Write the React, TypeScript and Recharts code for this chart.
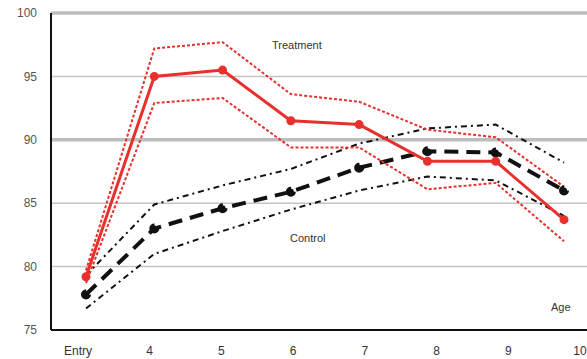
import React from "react";
import {
  LineChart,
  Line,
  XAxis,
  YAxis,
  CartesianGrid,
  ReferenceLine,
} from "recharts";

// age at measurement; "Entry" is the baseline visit
const ages = ["Entry", "4", "5", "6", "7", "8", "9", "10"];

const treatment = [79.2, 95.0, 95.5, 91.5, 91.2, 88.3, 88.3, 83.7];
const treatmentUpper = [79.7, 97.2, 97.7, 93.6, 93.0, 90.8, 90.2, 86.3];
const treatmentLower = [78.7, 92.9, 93.3, 89.4, 89.4, 86.1, 86.6, 82.0];

const control = [77.8, 83.0, 84.6, 85.9, 87.8, 89.1, 89.0, 86.0];
const controlUpper = [79.3, 84.9, 86.4, 87.7, 89.7, 90.9, 91.2, 88.2];
const controlLower = [76.7, 81.0, 82.8, 84.5, 86.0, 87.1, 86.8, 84.0];

const yTicks = [75, 80, 85, 90, 95, 100];
const majorLines = [90, 100];

const data = ages.map((age, i) => ({
  age,
  treatment: treatment[i],
  treatmentUpper: treatmentUpper[i],
  treatmentLower: treatmentLower[i],
  control: control[i],
  controlUpper: controlUpper[i],
  controlLower: controlLower[i],
}));

const font = "'Liberation Sans', Arial, sans-serif";
const red = "#e8302c";

const noteStyle: React.CSSProperties = {
  position: "absolute",
  fontFamily: font,
  fontSize: 11,
  color: "#333",
  lineHeight: "12px",
  whiteSpace: "nowrap",
};

export default function App() {
  return (
    <div
      style={{
        position: "absolute",
        left: 0,
        top: 0,
        width: 587,
        height: 359,
        overflow: "hidden",
        background: "#fff",
      }}
    >
      <LineChart
        width={599}
        height={359}
        data={data}
        margin={{ top: 13, right: 0, left: 0, bottom: 0 }}
      >
        <CartesianGrid vertical={false} stroke="#c4c4c4" strokeWidth={1.5} />
        {majorLines.map((v) => (
          <ReferenceLine key={v} y={v} stroke="#bdbdbd" strokeWidth={3.5} />
        ))}
        {/* points sit on this axis; the printed labels use a slightly wider spacing */}
        <XAxis dataKey="age" hide height={0} padding={{ left: 35, right: 35 }} />
        <XAxis
          xAxisId="lbl"
          dataKey="age"
          height={29}
          padding={{ left: 27, right: 19 }}
          axisLine={{ stroke: "#111", strokeWidth: 2 }}
          tickLine={false}
          tickMargin={10}
          interval={0}
          tick={{ fontSize: 12, fill: "#333", fontFamily: font }}
        />
        <YAxis
          width={51}
          domain={[75, 100]}
          ticks={yTicks}
          axisLine={{ stroke: "#111", strokeWidth: 2 }}
          tickLine={false}
          tickMargin={8}
          tick={{ fontSize: 12, fill: "#555", fontFamily: font }}
        />
        <Line
          dataKey="controlUpper"
          stroke="#111"
          strokeWidth={2}
          strokeDasharray="6 4 2 4"
          dot={false}
          isAnimationActive={false}
        />
        <Line
          dataKey="controlLower"
          stroke="#111"
          strokeWidth={2}
          strokeDasharray="6 4 2 4"
          dot={false}
          isAnimationActive={false}
        />
        <Line
          dataKey="control"
          stroke="#111"
          strokeWidth={4}
          strokeDasharray="14 8"
          dot={{ r: 3, fill: "#111", stroke: "#111" }}
          isAnimationActive={false}
        />
        <Line
          dataKey="treatmentUpper"
          stroke={red}
          strokeWidth={2}
          strokeDasharray="3 2"
          dot={false}
          isAnimationActive={false}
        />
        <Line
          dataKey="treatmentLower"
          stroke={red}
          strokeWidth={2}
          strokeDasharray="3 2"
          dot={false}
          isAnimationActive={false}
        />
        <Line
          dataKey="treatment"
          stroke={red}
          strokeWidth={3}
          dot={{ r: 3, fill: red, stroke: red }}
          isAnimationActive={false}
        />
      </LineChart>
      <div style={{ ...noteStyle, left: 272, top: 39 }}>Treatment</div>
      <div style={{ ...noteStyle, left: 290, top: 232 }}>Control</div>
      <div style={{ ...noteStyle, left: 551, top: 301 }}>Age</div>
    </div>
  );
}
